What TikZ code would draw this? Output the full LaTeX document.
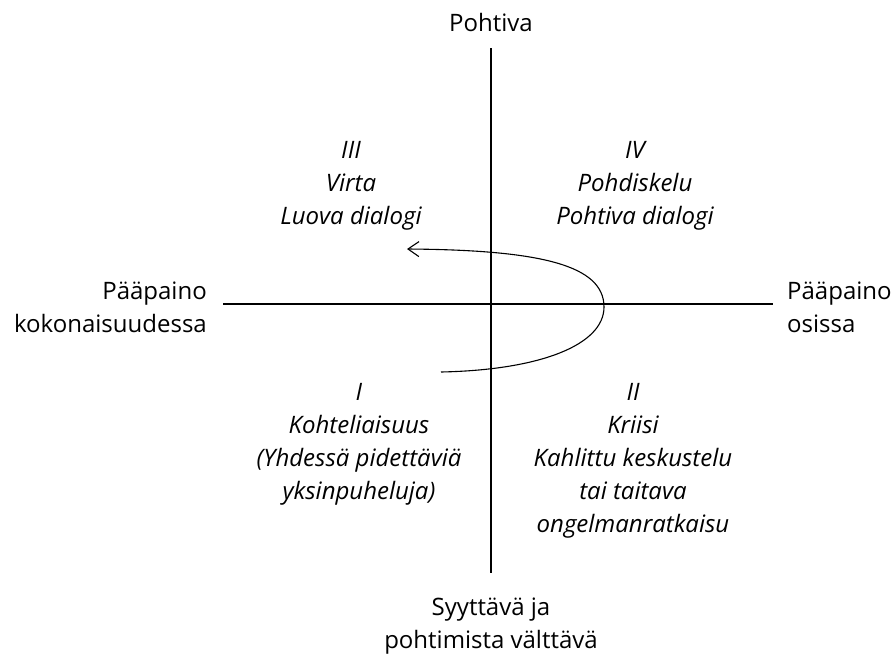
\documentclass[tikz,border=0pt]{standalone}
\usepackage{fontspec}
\setmainfont{Open Sans}
\usetikzlibrary{arrows.meta}
\begin{document}
\begin{tikzpicture}[x=1pt,y=-1pt,
  axis/.style={line width=2pt},
  flow/.style={line width=1.1pt,-{Straight Barb[length=11pt,width=15pt,line width=1.1pt]}},
  label/.style={inner sep=0pt,font=\fontsize{24}{33}\selectfont},
  quad/.style={inner sep=0pt,align=center,font=\fontsize{24}{33}\selectfont\itshape}]
  \useasboundingbox (0,0) rectangle (895,657);

  % axes
  \coordinate (top) at (491,48);
  \coordinate (bottom) at (491,573);
  \coordinate (left) at (223,304);
  \coordinate (right) at (773,304);
  \draw[axis] (top) -- (bottom);
  \draw[axis] (left) -- (right);

  % axis labels (base anchor sits on the last line)
  \node[label,anchor=base] (ntop) at (491,31) {Pohtiva};
  \node[label,anchor=base,align=center] (nbottom) at (491,648) {Syyttävä ja\\pohtimista välttävä};
  \node[label,anchor=base east,align=right] (nleft) at (207,332) {Pääpaino\\kokonaisuudessa};
  \node[label,anchor=base west,align=left] (nright) at (787,332) {Pääpaino\\osissa};

  % quadrants
  \node[quad,anchor=base] (q3) at (351,224) {III\\Virta\\Luova dialogi};
  \node[quad,anchor=base] (q4) at (635,224) {IV\\Pohdiskelu\\Pohtiva dialogi};
  \node[quad,anchor=base] (q1) at (359,499) {I\\Kohteliaisuus\\(Yhdessä pidettäviä\\yksinpuheluja)};
  \node[quad,anchor=base] (q2) at (633,532) {II\\Kriisi\\Kahlittu keskustelu\\tai taitava\\ongelmanratkaisu};

  % movement from I round to III
  \coordinate (cstart) at (441,372);
  \coordinate (cturn) at (604,307);
  \coordinate (cend) at (407,249);
  \draw[flow] (cstart) .. controls (540,370) and (604,345) .. (cturn)
                       .. controls (604,265) and (540,250) .. (cend);
\end{tikzpicture}
\end{document}
